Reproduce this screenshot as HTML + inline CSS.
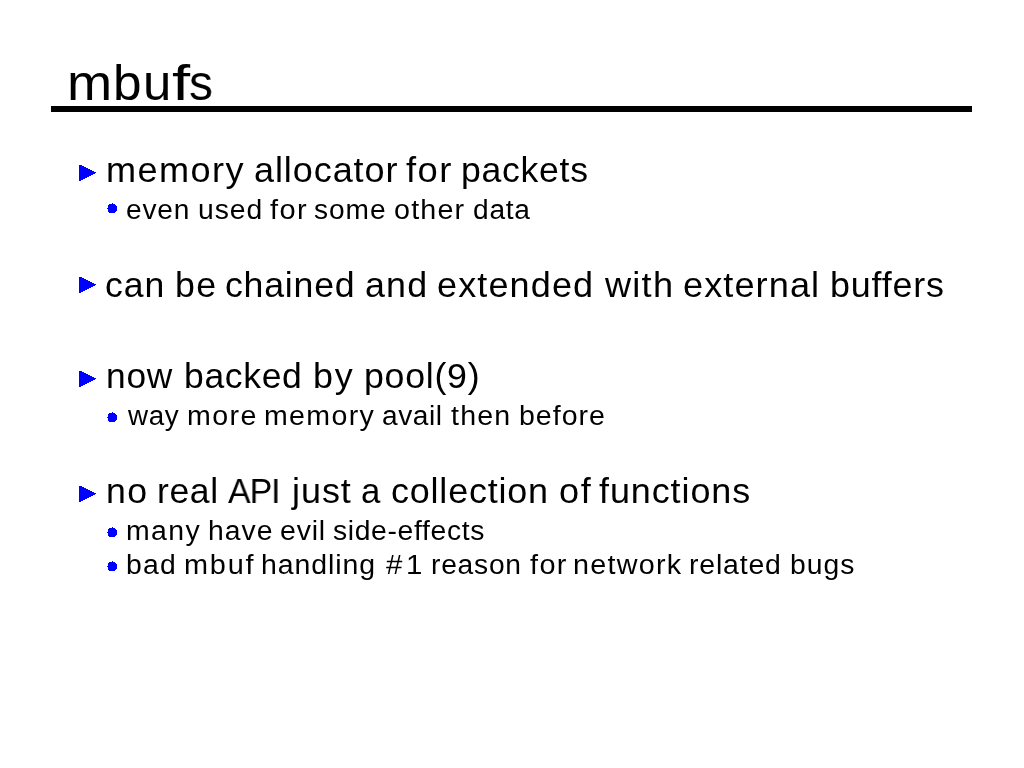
<!DOCTYPE html>
<html><head><meta charset="utf-8"><title>mbufs</title>
<style>
html,body{margin:0;padding:0;background:#fff;}
#slide{position:relative;width:1024px;height:768px;overflow:hidden;background:#fff;font-family:"Liberation Sans",sans-serif;color:#000;}
#slide span{position:absolute;white-space:pre;line-height:1;transform-origin:0 0;will-change:transform;}
h1,ul,li{margin:0;padding:0;font-weight:normal;font-size:inherit;list-style:none;}
.rule{position:absolute;left:51px;top:106px;width:921px;height:6px;background:#000;}
.tri,.dot{position:absolute;display:block;}
.tri{left:79px;width:17px;height:16px;}
.dot{left:107px;width:10px;height:10px;}
</style></head>
<body><div id="slide">
<h1><span style="left:67.08px;top:58.00px;font-size:50.45px;transform:scaleX(1.0750)">m</span><span style="left:113.35px;top:58.00px;font-size:50.45px;transform:scaleX(1.0174)">b</span><span style="left:142.77px;top:58.00px;font-size:50.45px;transform:scaleX(1.0091)">u</span><span style="left:171.81px;top:58.00px;font-size:50.45px;transform:scaleX(1.2923)">f</span><span style="left:188.80px;top:58.00px;font-size:50.45px;transform:scaleX(0.9476)">s</span></h1>
<div class="rule"></div>
<ul>
<li><svg class="tri" style="top:165px" viewBox="0 0 17 16" shape-rendering="crispEdges"><path fill="#00f" d="M0 0h3v1h2v1h2v1h2v1h2v1h2v1h2v1h2v1h-1v1h-2v1h-2v1h-2v1h-2v1h-2v1h-2v1h-2v1H0z"/></svg><span style="left:105.82px;top:153.00px;font-size:34.77px;letter-spacing:1.40px;transform:scaleX(1.0376)">memory</span> <span style="left:253.83px;top:153.00px;font-size:34.77px;letter-spacing:0.88px;transform:scaleX(1.0359)">allocator</span> <span style="left:406.05px;top:153.00px;font-size:34.77px;letter-spacing:1.38px;transform:scaleX(1.0466)">for</span> <span style="left:461.15px;top:153.00px;font-size:34.77px;letter-spacing:0.70px;transform:scaleX(1.0238)">packets</span>
<ul><li><svg class="dot" style="top:203px" viewBox="0 0 10 10" shape-rendering="crispEdges"><path fill="#00f" d="M5 0h1v1h2v1h1v1h1v5h-1v1h-1v1H2v-1H1v-3H0v-1h1V2h1V1h3z"/></svg><span style="left:125.97px;top:196.00px;font-size:27.35px;letter-spacing:0.77px;transform:scaleX(1.0268)">even</span> <span style="left:198.03px;top:196.00px;font-size:27.35px;letter-spacing:0.96px;transform:scaleX(1.0347)">used</span> <span style="left:270.30px;top:196.00px;font-size:27.35px;letter-spacing:1.40px;transform:scaleX(1.0593)">for</span> <span style="left:314.27px;top:196.00px;font-size:27.35px;letter-spacing:0.91px;transform:scaleX(1.0277)">some</span> <span style="left:394.05px;top:196.00px;font-size:27.35px;letter-spacing:1.13px;transform:scaleX(1.0487)">other</span> <span style="left:472.57px;top:196.00px;font-size:27.35px;letter-spacing:0.73px;transform:scaleX(1.0279)">data</span></li></ul></li>
<li><svg class="tri" style="top:277px" viewBox="0 0 17 16" shape-rendering="crispEdges"><path fill="#00f" d="M0 0h3v1h2v1h2v1h2v1h2v1h2v1h2v1h2v1h-1v1h-2v1h-2v1h-2v1h-2v1h-2v1h-2v1h-2v1H0z"/></svg><span style="left:104.75px;top:268.00px;font-size:34.77px;letter-spacing:0.92px;transform:scaleX(1.0234)">can</span> <span style="left:174.85px;top:268.00px;font-size:34.77px;letter-spacing:1.42px;transform:scaleX(1.0269)">be</span> <span style="left:225.05px;top:268.00px;font-size:34.77px;letter-spacing:0.77px;transform:scaleX(1.0259)">chained</span> <span style="left:364.84px;top:268.00px;font-size:34.77px;letter-spacing:1.18px;transform:scaleX(1.0290)">and</span> <span style="left:436.73px;top:268.00px;font-size:34.77px;letter-spacing:1.09px;transform:scaleX(1.0361)">extended</span> <span style="left:604.70px;top:268.00px;font-size:34.77px;letter-spacing:1.20px;transform:scaleX(1.0395)">with</span> <span style="left:683.02px;top:268.00px;font-size:34.77px;letter-spacing:1.03px;transform:scaleX(1.0398)">external</span> <span style="left:829.84px;top:268.00px;font-size:34.77px;letter-spacing:0.80px;transform:scaleX(1.0310)">buffers</span></li>
<li><svg class="tri" style="top:371px" viewBox="0 0 17 16" shape-rendering="crispEdges"><path fill="#00f" d="M0 0h3v1h2v1h2v1h2v1h2v1h2v1h2v1h2v1h-1v1h-2v1h-2v1h-2v1h-2v1h-2v1h-2v1h-2v1H0z"/></svg><span style="left:105.57px;top:359.00px;font-size:34.77px;letter-spacing:0.74px;transform:scaleX(1.0159)">now</span> <span style="left:184.06px;top:359.00px;font-size:34.77px;letter-spacing:0.67px;transform:scaleX(1.0204)">backed</span> <span style="left:312.73px;top:359.00px;font-size:34.77px;letter-spacing:1.71px;transform:scaleX(1.0333)">by</span> <span style="left:364.35px;top:359.00px;font-size:34.77px;letter-spacing:0.71px;transform:scaleX(1.0271)">pool(9)</span>
<ul><li><svg class="dot" style="top:412px" viewBox="0 0 10 10" shape-rendering="crispEdges"><path fill="#00f" d="M5 0h1v1h2v1h1v1h1v5h-1v1h-1v1H2v-1H1v-3H0v-1h1V2h1V1h3z"/></svg><span style="left:127.60px;top:402.00px;font-size:27.35px;letter-spacing:0.60px;transform:scaleX(1.0161)">way</span> <span style="left:187.01px;top:402.00px;font-size:27.35px;letter-spacing:1.35px;transform:scaleX(1.0452)">more</span> <span style="left:263.91px;top:402.00px;font-size:27.35px;letter-spacing:1.29px;transform:scaleX(1.0439)">memory</span> <span style="left:382.37px;top:402.00px;font-size:27.35px;letter-spacing:0.56px;transform:scaleX(1.0276)">avail</span> <span style="left:451.40px;top:402.00px;font-size:27.35px;letter-spacing:1.17px;transform:scaleX(1.0446)">then</span> <span style="left:518.81px;top:402.00px;font-size:27.35px;letter-spacing:0.96px;transform:scaleX(1.0429)">before</span></li></ul></li>
<li><svg class="tri" style="top:486px" viewBox="0 0 17 16" shape-rendering="crispEdges"><path fill="#00f" d="M0 0h3v1h2v1h2v1h2v1h2v1h2v1h2v1h2v1h-1v1h-2v1h-2v1h-2v1h-2v1h-2v1h-2v1h-2v1H0z"/></svg><span style="left:105.75px;top:474.00px;font-size:34.77px;letter-spacing:1.36px;transform:scaleX(1.0258)">no</span> <span style="left:156.86px;top:474.00px;font-size:34.77px;letter-spacing:0.59px;transform:scaleX(1.0219)">real</span> <span style="left:228.30px;top:474.00px;font-size:34.77px;letter-spacing:-1.03px;transform:scaleX(0.9738)">API</span> <span style="left:292.13px;top:474.00px;font-size:34.77px;letter-spacing:0.94px;transform:scaleX(1.0340)">just</span> <span style="left:360.62px;top:474.00px;font-size:34.77px;transform:scaleX(0.9882)">a</span> <span style="left:390.63px;top:474.00px;font-size:34.77px;letter-spacing:0.79px;transform:scaleX(1.0332)">collection</span> <span style="left:558.76px;top:474.00px;font-size:34.77px;letter-spacing:1.59px;transform:scaleX(1.0375)">of</span> <span style="left:599.17px;top:474.00px;font-size:34.77px;letter-spacing:0.88px;transform:scaleX(1.0342)">functions</span>
<ul><li><svg class="dot" style="top:527px" viewBox="0 0 10 10" shape-rendering="crispEdges"><path fill="#00f" d="M5 0h1v1h2v1h1v1h1v5h-1v1h-1v1H2v-1H1v-3H0v-1h1V2h1V1h3z"/></svg><span style="left:126.02px;top:517.00px;font-size:27.35px;letter-spacing:1.31px;transform:scaleX(1.0400)">many</span> <span style="left:207.93px;top:517.00px;font-size:27.35px;letter-spacing:1.00px;transform:scaleX(1.0355)">have</span> <span style="left:280.16px;top:517.00px;font-size:27.35px;letter-spacing:0.78px;transform:scaleX(1.0408)">evil</span> <span style="left:332.87px;top:517.00px;font-size:27.35px;letter-spacing:0.64px;transform:scaleX(1.0339)">side-effects</span></li>
<li><svg class="dot" style="top:561px" viewBox="0 0 10 10" shape-rendering="crispEdges"><path fill="#00f" d="M5 0h1v1h2v1h1v1h1v5h-1v1h-1v1H2v-1H1v-3H0v-1h1V2h1V1h3z"/></svg><span style="left:125.93px;top:551.00px;font-size:27.35px;letter-spacing:1.15px;transform:scaleX(1.0362)">bad</span> <span style="left:184.09px;top:551.00px;font-size:27.35px;letter-spacing:1.67px;transform:scaleX(1.0559)">mbuf</span> <span style="left:261.32px;top:551.00px;font-size:27.35px;letter-spacing:0.89px;transform:scaleX(1.0411)">handling</span> <span style="left:386.10px;top:551.00px;font-size:27.35px;letter-spacing:3.35px;transform:scaleX(1.0757)">#1</span> <span style="left:431.04px;top:551.00px;font-size:27.35px;letter-spacing:0.74px;transform:scaleX(1.0308)">reason</span> <span style="left:529.60px;top:551.00px;font-size:27.35px;letter-spacing:1.31px;transform:scaleX(1.0557)">for</span> <span style="left:572.70px;top:551.00px;font-size:27.35px;letter-spacing:1.20px;transform:scaleX(1.0509)">network</span> <span style="left:688.52px;top:551.00px;font-size:27.35px;letter-spacing:0.79px;transform:scaleX(1.0393)">related</span> <span style="left:789.53px;top:551.00px;font-size:27.35px;letter-spacing:1.00px;transform:scaleX(1.0355)">bugs</span></li></ul></li>
</ul>
</div></body></html>
